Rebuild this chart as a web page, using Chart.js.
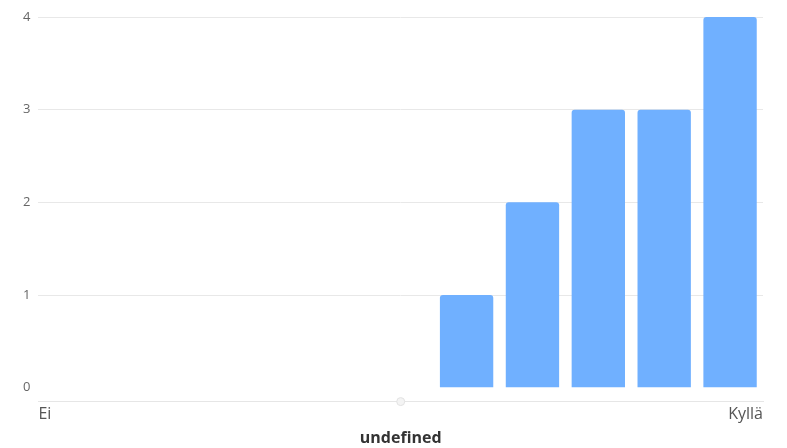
<!DOCTYPE html>
<html>
<head>
<meta charset="utf-8">
<script src="https://cdn.jsdelivr.net/npm/chart.js@4"></script>
<style>
  html, body { margin: 0; padding: 0; background: #fff; }
  #wrap { width: 787px; height: 448px; }
</style>
</head>
<body>
<div id="wrap"><canvas id="myChart"></canvas></div>
<script>
// data
const scalePoints = [0, 1, 2, 3, 4, 5, 6, 7, 8, 9, 10];
const answerCounts = [0, 0, 0, 0, 0, 0, 1, 2, 3, 3, 4];
const endLabels = ['Ei', 'Kyllä'];
const yTicks = [0, 1, 2, 3, 4];
const midPoint = 5;
const axisTitle = 'undefined';

const yMin = -0.15;

const barData = scalePoints.map((p, i) => ({ x: p, y: answerCounts[i] }));

const config = {
  type: 'bar',
  data: {
    datasets: [
      {
        type: 'scatter',
        data: [{ x: midPoint, y: yMin }],
        pointRadius: 4,
        backgroundColor: '#f4f4f4',
        borderColor: '#e2e2e2',
        borderWidth: 1,
        clip: false
      },
      {
        data: barData,
        backgroundColor: 'rgb(112, 176, 255)',
        borderRadius: { topLeft: 3, topRight: 3 },
        borderSkipped: 'bottom',
        barPercentage: 0.9,
        categoryPercentage: 0.9
      }
    ]
  },
  options: {
    responsive: true,
    maintainAspectRatio: false,
    animation: false,
    layout: { padding: { top: 17, right: 24, left: 15, bottom: 0 } },
    plugins: {
      legend: { display: false },
      tooltip: { enabled: false }
    },
    scales: {
      x: {
        type: 'linear',
        offset: false,
        min: scalePoints[0] - 0.5,
        max: scalePoints[scalePoints.length - 1] + 0.5,
        afterBuildTicks: (axis) => {
          axis.ticks = [{ value: scalePoints[0] - 0.5 }, { value: scalePoints[scalePoints.length - 1] + 0.5 }];
        },
        ticks: {
          align: 'inner',
          maxRotation: 0,
          padding: 3,
          color: '#555',
          font: { family: 'Open Sans', size: 16 },
          callback: (v, i) => endLabels[i]
        },
        grid: { display: false, drawTicks: false },
        border: { display: true, color: '#e6e6e6' },
        title: {
          display: true,
          text: axisTitle,
          color: '#333',
          font: { family: 'Open Sans', size: 16, weight: 'bold' },
          padding: { top: 2, bottom: 0 }
        }
      },
      y: {
        min: yMin,
        max: 4,
        afterBuildTicks: (axis) => {
          axis.ticks = yTicks.map(v => ({ value: v }));
        },
        ticks: {
          color: '#666',
          padding: 8,
          font: { family: 'Open Sans', size: 13 }
        },
        grid: {
          drawTicks: false,
          color: (ctx) => ctx.tick && ctx.tick.value === 0 ? 'rgba(0,0,0,0)' : '#e8e8e8'
        },
        border: { display: false }
      }
    }
  }
};

const myChart = new Chart(document.getElementById('myChart'), config);
</script>
</body>
</html>
